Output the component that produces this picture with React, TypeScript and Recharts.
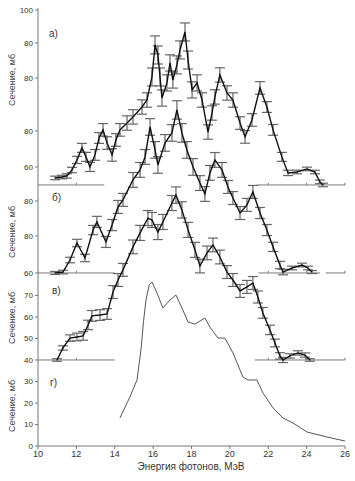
import { ErrorBar, Line, LineChart, ReferenceLine, XAxis, YAxis } from "recharts";

const W = 355;
const H = 481;

// photon energy axis
const xTicks = [10, 12, 14, 16, 18, 20, 22, 24, 26];

// panel a)
const aEnergy = [10.89, 11.25, 11.51, 11.77, 12.03, 12.29, 12.5, 12.71, 12.97, 13.18, 13.39, 13.6, 13.86, 14.06, 14.27, 14.64, 14.95, 15.42, 15.68, 15.94, 16.1, 16.25, 16.36, 16.46, 16.72, 16.88, 17.03, 17.24, 17.4, 17.66, 17.82, 18.03, 18.29, 18.55, 18.86, 19.07, 19.22, 19.48, 19.85, 20.16, 20.53, 20.79, 21.15, 21.57, 21.93, 22.25, 22.71, 23.03, 23.5, 24.02, 24.43, 24.69, 24.85];
const aCross = [53.9, 54.4, 55.0, 58.3, 63.9, 70.6, 65.6, 60.0, 66.7, 76.1, 80.6, 73.3, 66.7, 75.0, 80.6, 84.4, 87.8, 93.3, 97.2, 110.0, 127.8, 122.2, 110.0, 98.3, 106.7, 117.8, 108.3, 116.7, 125.0, 135.0, 119.4, 102.8, 106.7, 97.2, 79.4, 90.0, 98.9, 111.1, 101.1, 97.2, 84.4, 76.7, 86.1, 103.9, 93.3, 80.6, 65.6, 56.7, 57.2, 58.9, 57.2, 51.7, 50.0];
const aErr = [1, 1, 1.2, 1.5, 2, 2.5, 2.5, 2.5, 3, 3, 3.5, 3.5, 3.5, 3.5, 3.5, 4, 4, 4, 4, 5, 5, 5, 5, 4.5, 4.5, 4.5, 4.5, 5, 5, 5, 5, 4.5, 4.5, 4, 4, 4, 4, 4, 4, 4, 3.5, 3.5, 3.5, 3.5, 3, 3, 2.5, 1.5, 1, 1, 1, 1, 1];
const aTicks = [60, 80, 109.4, 128.9, 147.2];
const aTickLabels = ["60", "80", "80", "80", "100"];

// panel б)
const bEnergy = [10.89, 11.3, 11.67, 12.03, 12.45, 12.87, 13.07, 13.54, 13.86, 14.17, 14.43, 14.95, 15.32, 15.58, 15.84, 16.1, 16.25, 16.62, 16.98, 17.24, 17.5, 17.76, 18.08, 18.44, 18.7, 18.96, 19.22, 19.59, 19.9, 20.16, 20.53, 20.89, 21.2, 21.57, 21.93, 22.25, 22.61, 22.77, 23.24, 23.76, 24.07, 24.28];
const bCross = [60.0, 60.5, 67.0, 76.2, 68.1, 83.2, 87.6, 76.8, 85.9, 95.7, 99.5, 110.3, 115.7, 122.7, 138.9, 126.5, 118.4, 130.3, 135.7, 148.1, 135.7, 126.5, 117.3, 108.6, 102.7, 114.1, 121.1, 115.7, 106.5, 100.5, 92.4, 96.8, 103.8, 92.4, 83.2, 74.1, 64.3, 60.5, 62.7, 64.3, 62.7, 60.5];
const bErr = [0.8, 1, 1.5, 2, 2, 2.5, 3, 3, 3, 3.5, 3.5, 4, 4, 4, 4.5, 4.5, 4.5, 4.5, 4.5, 5, 5, 4.5, 4.5, 4, 4, 4, 4, 4, 3.5, 3.5, 3.5, 3.5, 3.5, 3, 3, 2.5, 2, 1.5, 1, 1, 1, 0.8];
const bTicks = [60, 80, 98.9];
const bTickLabels = ["60", "80", "80"];

// panel в)
const vEnergy = [10.99, 11.3, 11.67, 12.03, 12.35, 12.61, 12.81, 13.23, 13.6, 13.91, 14.17, 14.43, 14.95, 15.32, 15.73, 15.94, 16.25, 16.51, 16.98, 17.19, 17.5, 17.82, 18.18, 18.44, 18.81, 19.12, 19.48, 19.85, 20.16, 20.53, 20.89, 21.2, 21.46, 21.72, 22.09, 22.35, 22.61, 22.77, 23.13, 23.55, 23.91, 24.17];
const vCross = [40.0, 45.6, 50.2, 50.7, 51.2, 56.3, 60.5, 60.9, 61.4, 71.6, 77.2, 81.9, 92.6, 99.1, 106.0, 105.1, 99.5, 104.2, 113.0, 116.7, 109.8, 100.5, 91.2, 83.7, 89.8, 93.5, 87.9, 80.9, 77.2, 72.1, 74.0, 75.8, 69.3, 61.9, 54.0, 47.9, 41.9, 40.0, 41.9, 43.3, 42.3, 40.0];
const vErr = [0.6, 1, 1.5, 1.8, 2, 2.2, 2.5, 2.5, 2.5, 3, 3, 3, 3.2, 3.5, 3.5, 3.5, 3.5, 3.5, 3.5, 3.8, 3.8, 3.5, 3.5, 3.2, 3.2, 3.2, 3.2, 3, 3, 3, 3, 3, 2.8, 2.5, 2.2, 1.8, 1.5, 1.2, 1, 1, 1, 0.6];

// panel г)
const gEnergy = [14.27, 14.79, 15.16, 15.37, 15.5, 15.63, 15.8, 15.94, 16.2, 16.51, 16.88, 17.19, 17.5, 17.82, 18.18, 18.7, 18.96, 19.38, 19.74, 20.16, 20.68, 20.94, 21.41, 21.72, 22.25, 22.77, 23.29, 24.02, 25.06, 26.0];
const gCross = [13.0, 22.8, 30.7, 45.0, 58.0, 68.0, 75.0, 76.3, 71.2, 64.2, 67.9, 70.2, 64.2, 57.7, 56.7, 59.5, 55.3, 50.2, 50.2, 43.3, 32.1, 30.7, 30.7, 24.7, 17.7, 13.0, 10.7, 6.5, 4.2, 2.3];

const lowTicks = [0, 10, 20, 30, 40, 50, 60, 70];
const lowTickLabels = ["0", "10", "20", "30", "40", "50", "60", "70"];

// broken baselines under each panel
const aBase = 50;
const aBaseParts = [[10, 13.45], [21.4, 26]];
const bBase = 60;
const bBaseParts = [[10, 14], [21.5, 24.7], [25.0, 26]];
const vBase = 40;
const vBaseParts = [[10, 14], [21.3, 26]];
const baseMarks = [12, 22, 24, 26];

const rows = (e: number[], v: number[], err?: number[]) =>
  e.map((x, i) => ({ e: x, v: v[i], err: err ? err[i] : 0 }));

const FONT = "'Liberation Sans', Arial, sans-serif";
const AXIS = "#777";

function Layer({ series, yDomain, yTicks, yLabels, base, parts, markH, withX }: any) {
  return (
    <div style={{ position: "absolute", left: 0, top: 0 }}>
      <LineChart width={W} height={H} margin={{ top: 8, right: 10, bottom: withX ? 5 : 35, left: 0 }}>
        <XAxis
          type="number"
          dataKey="e"
          domain={[10, 26]}
          ticks={xTicks}
          interval={0}
          hide={!withX}
          height={30}
          allowDataOverflow
          stroke={AXIS}
          tickSize={3}
          tickMargin={2}
          tick={{ fontSize: 9, fill: "#333", fontFamily: FONT }}
        />
        <YAxis
          type="number"
          domain={yDomain}
          ticks={yTicks}
          interval={0}
          width={38}
          allowDataOverflow
          axisLine={withX ? { stroke: AXIS } : false}
          tickLine={{ stroke: AXIS }}
          tickSize={3}
          tickMargin={2}
          tick={{ fontSize: 8, fill: "#333", fontFamily: FONT }}
          tickFormatter={(v: number) => yLabels[yTicks.indexOf(v)] ?? ""}
        />
        {parts.map((p: number[], i: number) => (
          <ReferenceLine
            key={"p" + i}
            segment={[{ x: p[0], y: base }, { x: p[1], y: base }]}
            stroke={AXIS}
            strokeWidth={1}
            ifOverflow="visible"
          />
        ))}
        {baseMarks.map((m) => (
          <ReferenceLine
            key={"m" + m}
            segment={[{ x: m, y: base }, { x: m, y: base + markH }]}
            stroke={AXIS}
            ifOverflow="visible"
          />
        ))}
        {series.map((s: any) => (
          <Line
            key={s.id}
            data={s.data}
            dataKey="v"
            type="linear"
            stroke={s.color}
            strokeWidth={s.width}
            dot={false}
            isAnimationActive={false}
          >
            {s.err && <ErrorBar dataKey="err" width={5} strokeWidth={1.2} stroke="#666" direction="y" />}
          </Line>
        ))}
      </LineChart>
    </div>
  );
}

const yTitle = "Сечение, мб";
const titleY = [80, 232, 318, 406];
const panelTags = [
  { t: "а)", x: 49, y: 37 },
  { t: "б)", x: 52, y: 201 },
  { t: "в)", x: 52, y: 294 },
  { t: "г)", x: 50, y: 386 },
];

export default function App() {
  return (
    <div style={{ position: "absolute", left: 0, top: 0, width: W, height: H, background: "#fff" }}>
      <Layer
        series={[{ id: "a", data: rows(aEnergy, aCross, aErr), color: "#111", width: 1.4, err: true }]}
        yDomain={[-95, 148.3]}
        yTicks={aTicks}
        yLabels={aTickLabels}
        base={aBase}
        parts={aBaseParts}
        markH={1.2}
        withX={false}
      />
      <Layer
        series={[{ id: "b", data: rows(bEnergy, bCross, bErr), color: "#111", width: 1.4, err: true }]}
        yDomain={[-33.5, 203.2]}
        yTicks={bTicks}
        yLabels={bTickLabels}
        base={bBase}
        parts={bBaseParts}
        markH={1.2}
        withX={false}
      />
      <Layer
        series={[
          { id: "v", data: rows(vEnergy, vCross, vErr), color: "#111", width: 1.4, err: true },
          { id: "g", data: rows(gEnergy, gCross), color: "#555", width: 1, err: false },
        ]}
        yDomain={[0, 203.7]}
        yTicks={lowTicks}
        yLabels={lowTickLabels}
        base={vBase}
        parts={vBaseParts}
        markH={1}
        withX={true}
      />
      <svg width={W} height={H} style={{ position: "absolute", left: 0, top: 0, pointerEvents: "none" }}>
        {titleY.map((cy) => (
          <text
            key={cy}
            x={15}
            y={cy}
            transform={`rotate(-90 15 ${cy})`}
            textAnchor="middle"
            fontSize={9}
            fill="#444"
            fontFamily={FONT}
          >
            {yTitle}
          </text>
        ))}
        {panelTags.map((p) => (
          <text key={p.t} x={p.x} y={p.y} fontSize={10} fill="#333" fontFamily={FONT}>
            {p.t}
          </text>
        ))}
        <text x={191} y={470} textAnchor="middle" fontSize={10} fill="#333" fontFamily={FONT}>
          Энергия фотонов, МэВ
        </text>
      </svg>
    </div>
  );
}
